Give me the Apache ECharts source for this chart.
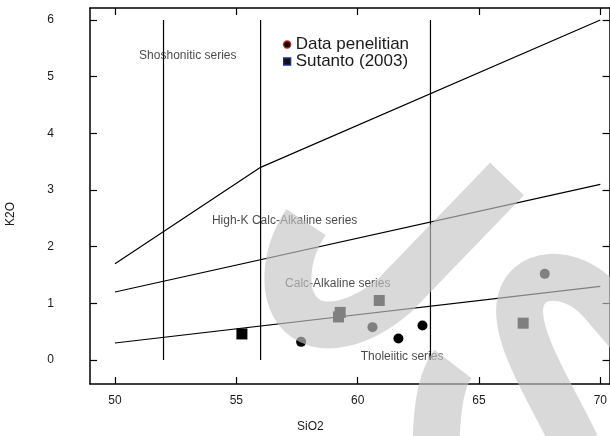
<!DOCTYPE html>
<html>
<head>
<meta charset="utf-8">
<script src="https://cdn.jsdelivr.net/npm/echarts@6/dist/echarts.min.js"></script>
<style>
  html, body { margin: 0; padding: 0; background: #fff; }
  #container { width: 610px; height: 436px; }
</style>
</head>
<body>
<div id="container"></div>
<script>
// tick labels
var xTicks = [50, 55, 60, 65, 70];
var yTicks = [0, 1, 2, 3, 4, 5, 6];

// boundary lines (Peccerillo & Taylor style K2O vs SiO2)
var shoX = [50, 56, 70], shoY = [1.7, 3.4, 6.0];
var hkX = [50, 70], hkY = [1.2, 3.1];
var thX = [50, 70], thY = [0.3, 1.3];
var dividerX = [52, 56, 63], dividerY = [0, 6];

// field names
var fieldNames = ['Shoshonitic series', 'High-K Calc-Alkaline series', 'Calc-Alkaline series', 'Tholeiitic series'];
var fieldX = [53.0, 56.99, 59.18, 61.83];
var fieldY = [5.37, 2.45, 1.35, 0.06];

// samples
var penelitianSiO2 = [57.67, 60.61, 61.68, 62.67, 67.71];
var penelitianK2O = [0.32, 0.58, 0.38, 0.61, 1.52];
var sutantoSiO2 = [55.23, 59.28, 59.21, 60.89, 66.82];
var sutantoK2O = [0.46, 0.84, 0.76, 1.05, 0.65];

var font = 'Liberation Sans, Arial, sans-serif';
var ink = '#1a1a1a';

function pairs(xs, ys) {
  var out = [];
  for (var i = 0; i < xs.length; i++) out.push([xs[i], ys[i]]);
  return out;
}

function lineSeries(name, data) {
  return {
    name: name, type: 'line', data: data, showSymbol: false, symbol: 'none',
    silent: true, z: 3,
    lineStyle: { color: '#000', width: 1.2 }
  };
}

var series = [
  lineSeries('sho', pairs(shoX, shoY)),
  lineSeries('hk', pairs(hkX, hkY)),
  lineSeries('th', pairs(thX, thY))
];
for (var i = 0; i < dividerX.length; i++) {
  series.push(lineSeries('div' + i, [[dividerX[i], dividerY[0]], [dividerX[i], dividerY[1]]]));
}

var fieldData = [];
for (var i = 0; i < fieldNames.length; i++) {
  fieldData.push({ name: fieldNames[i], value: [fieldX[i], fieldY[i]] });
}
series.push({
  name: 'fields', type: 'scatter', data: fieldData, symbolSize: 0, silent: true, z: 4,
  label: { show: true, position: 'inside', formatter: '{b}', color: ink, fontSize: 12, fontFamily: font }
});

series.push({
  name: 'Data penelitian', type: 'scatter', data: pairs(penelitianSiO2, penelitianK2O),
  symbol: 'circle', symbolSize: 10, z: 5,
  itemStyle: { color: '#000', opacity: 1 }
});
series.push({
  name: 'Sutanto (2003)', type: 'scatter', data: pairs(sutantoSiO2, sutantoK2O),
  symbol: 'rect', symbolSize: 11, z: 5,
  itemStyle: { color: '#000', opacity: 1 }
});

// grey watermark lying over the page (pixel paths, not data)
var wmPaths = [
  'M306,222 C284,255 280,300 305,318 C325,332 360,325 395,295 L507,179',
  'M453,364 C443,377 437,400 436,445',
  'M576,445 C555,400 515,340 520,305 C525,270 570,268 600,300 L630,335'
];
series.push({
  name: 'watermark', type: 'custom', silent: true, z: 100, clip: false,
  data: [[0, 0]],
  renderItem: function () {
    return {
      type: 'group',
      children: wmPaths.map(function (d) {
        return {
          type: 'path',
          shape: { pathData: d },
          style: { stroke: 'rgba(197,197,197,0.65)', fill: 'none', lineWidth: 47, lineCap: 'butt', lineJoin: 'round' }
        };
      })
    };
  }
});

function axisBase(isX, pos, labels) {
  var ticks = isX ? xTicks : yTicks;
  return {
    type: 'value',
    position: pos,
    min: isX ? 48.97 : -0.4235,
    max: isX ? 70.38 : 6.212,
    axisLine: { show: true, onZero: false, lineStyle: { color: '#000', width: 1.5 } },
    axisTick: { show: true, inside: true, length: 7, customValues: ticks, lineStyle: { color: '#000', width: 1.2 } },
    axisLabel: {
      show: labels, customValues: ticks, margin: isX ? 11 : 36,
      color: ink, fontSize: 12, fontFamily: font
    },
    splitLine: { show: false }
  };
}

var option = {
  animation: false,
  backgroundColor: '#fff',
  grid: { left: 90, right: -1, top: 8, bottom: 52 },
  xAxis: [axisBase(true, 'bottom', true), axisBase(true, 'top', false)],
  yAxis: [axisBase(false, 'left', true), axisBase(false, 'right', false)],
  legend: {
    orient: 'vertical', left: 283, top: 36, padding: 0, itemWidth: 7, itemHeight: 7, itemGap: 0,
    textStyle: { fontSize: 17, color: ink, fontFamily: font },
    data: [
      { name: 'Data penelitian', icon: 'circle', itemStyle: { color: '#000', borderColor: '#e01010', borderWidth: 1.3 } },
      { name: 'Sutanto (2003)', icon: 'rect', itemStyle: { color: '#111', borderColor: '#1c2c90', borderWidth: 1.3 } }
    ]
  },
  graphic: [
    { type: 'text', x: 5, y: 226, rotation: Math.PI / 2,
      style: { text: 'K2O', fill: ink, fontSize: 12, fontFamily: font } },
    { type: 'text', x: 297, y: 421,
      style: { text: 'SiO2', fill: ink, fontSize: 12, fontFamily: font } }
  ],
  series: series
};

var myChart = echarts.init(document.getElementById('container'));
myChart.setOption(option);
</script>
</body>
</html>
